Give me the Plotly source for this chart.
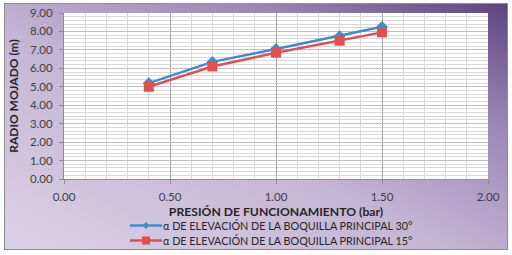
import plotly.graph_objects as go
import urllib.parse

presion = [0.4, 0.7, 1.0, 1.3, 1.5]
radio_30 = [5.2, 6.35, 7.05, 7.75, 8.25]
radio_15 = [5.0, 6.1, 6.85, 7.5, 7.95]
name_30 = "α DE ELEVACIÓN DE LA BOQUILLA PRINCIPAL 30°"
name_15 = "α DE ELEVACIÓN DE LA BOQUILLA PRINCIPAL 15°"
x_title = "PRESIÓN DE FUNCIONAMIENTO (bar)"
y_title = "RADIO MOJADO (m)"

BLUE = "#3a8ed2"
RED = "#e24f50"

W, H = 512, 255
L, R, T, B = 64, 24, 13, 76
pw, ph = W - L - R, H - T - B


def px(x):
    return (x - L) / pw


def py(y):
    return (T + ph - y) / ph


svg = (
    "<svg xmlns='http://www.w3.org/2000/svg' width='512' height='255' preserveAspectRatio='none'>"
    "<defs><linearGradient id='g' x1='0' y1='1' x2='1' y2='0'>"
    "<stop offset='0' stop-color='#dcd2e6'/>"
    "<stop offset='0.45' stop-color='#c3b5d4'/>"
    "<stop offset='0.75' stop-color='#9a86b5'/>"
    "<stop offset='1' stop-color='#5c4480'/>"
    "</linearGradient></defs>"
    "<rect x='0' y='0' width='512' height='255' fill='white'/>"
    "<rect x='4.5' y='3.5' width='503' height='246' fill='url(#g)' stroke='#8c8c8c' stroke-width='1'/>"
    "</svg>"
)
src = "data:image/svg+xml;charset=utf-8," + urllib.parse.quote(svg)

fig = go.Figure()
fig.add_trace(go.Scatter(
    x=presion, y=radio_30, name=name_30, mode="lines+markers",
    line=dict(color=BLUE, width=2.5),
    marker=dict(symbol="diamond", size=9, color=BLUE),
))
fig.add_trace(go.Scatter(
    x=presion, y=radio_15, name=name_15, mode="lines+markers",
    line=dict(color=RED, width=2.5),
    marker=dict(symbol="square", size=10, color=RED),
))

font_fam = "Lato, 'Open Sans', sans-serif"

# manual legend (compact rows like the reference)
shapes = [dict(type="rect", xref="paper", yref="paper", x0=0, x1=1, y0=0, y1=1,
               fillcolor="white", line=dict(width=0), layer="below")]
annotations = []
legend_rows = [(name_30, BLUE, "diamond", 225.5), (name_15, RED, "square", 240.5)]
for name, col, sym, yy in legend_rows:
    shapes.append(dict(type="line", xref="paper", yref="paper",
                       x0=px(130), x1=px(162), y0=py(yy), y1=py(yy),
                       line=dict(color=col, width=2.5), layer="above"))
    if sym == "square":
        shapes.append(dict(type="rect", xref="paper", yref="paper",
                           x0=px(142), x1=px(150), y0=py(yy + 4), y1=py(yy - 4),
                           fillcolor=col, line=dict(width=0), layer="above"))
    else:
        cx, cy = 146, yy
        path = "M {} {} L {} {} L {} {} L {} {} Z".format(
            px(cx - 3.5), py(cy), px(cx), py(cy - 3.5), px(cx + 3.5), py(cy), px(cx), py(cy + 3.5))
        shapes.append(dict(type="path", xref="paper", yref="paper", path=path,
                           fillcolor=col, line=dict(width=0), layer="above"))
    annotations.append(dict(text=name, xref="paper", yref="paper", x=px(161), y=py(yy),
                            xanchor="left", yanchor="middle", showarrow=False,
                            font=dict(size=10.8, color="#262626", family=font_fam)))

fig.update_layout(
    width=W, height=H,
    margin=dict(l=L, r=R, t=T, b=B, autoexpand=False),
    paper_bgcolor="white",
    plot_bgcolor="white",
    font=dict(family=font_fam, size=11, color="#404040"),
    images=[dict(
        source=src, xref="paper", yref="paper",
        x=-L / pw, y=1 + T / ph, sizex=W / pw, sizey=H / ph,
        xanchor="left", yanchor="top", sizing="stretch", layer="below",
    )],
    shapes=shapes,
    annotations=annotations,
    showlegend=False,
    xaxis=dict(
        range=[0, 2], dtick=0.5, tickformat=".2f", automargin=False,
        showgrid=True, gridcolor="#a6a6a6", gridwidth=1,
        minor=dict(dtick=0.1, showgrid=True, gridcolor="#d9d9d9", gridwidth=1),
        ticks="outside", ticklen=4, tickcolor="#8c8c8c", ticklabelstandoff=3,
        showline=True, linecolor="#8c8c8c", zeroline=False,
        tickfont=dict(size=11.5, color="#404040"),
        title=dict(text="<b>" + x_title + "</b>", font=dict(size=12.2, color="#262626"), standoff=5),
    ),
    yaxis=dict(
        range=[0, 9], dtick=1, tickformat=".2f", automargin=False,
        showgrid=True, gridcolor="#bfbfbf", gridwidth=1,
        minor=dict(dtick=0.2, showgrid=True, gridcolor="#d9d9d9", gridwidth=1),
        ticks="outside", ticklen=4, tickcolor="#8c8c8c", ticklabelstandoff=4,
        showline=True, linecolor="#8c8c8c", zeroline=False,
        tickfont=dict(size=11.5, color="#404040"),
        title=dict(text="<b>" + y_title + "</b>", font=dict(size=12, color="#262626"), standoff=8),
    ),
)

fig.write_html("out.html", config={"displayModeBar": False},
               post_script="document.body.style.margin='0';document.body.style.overflow='hidden';")
